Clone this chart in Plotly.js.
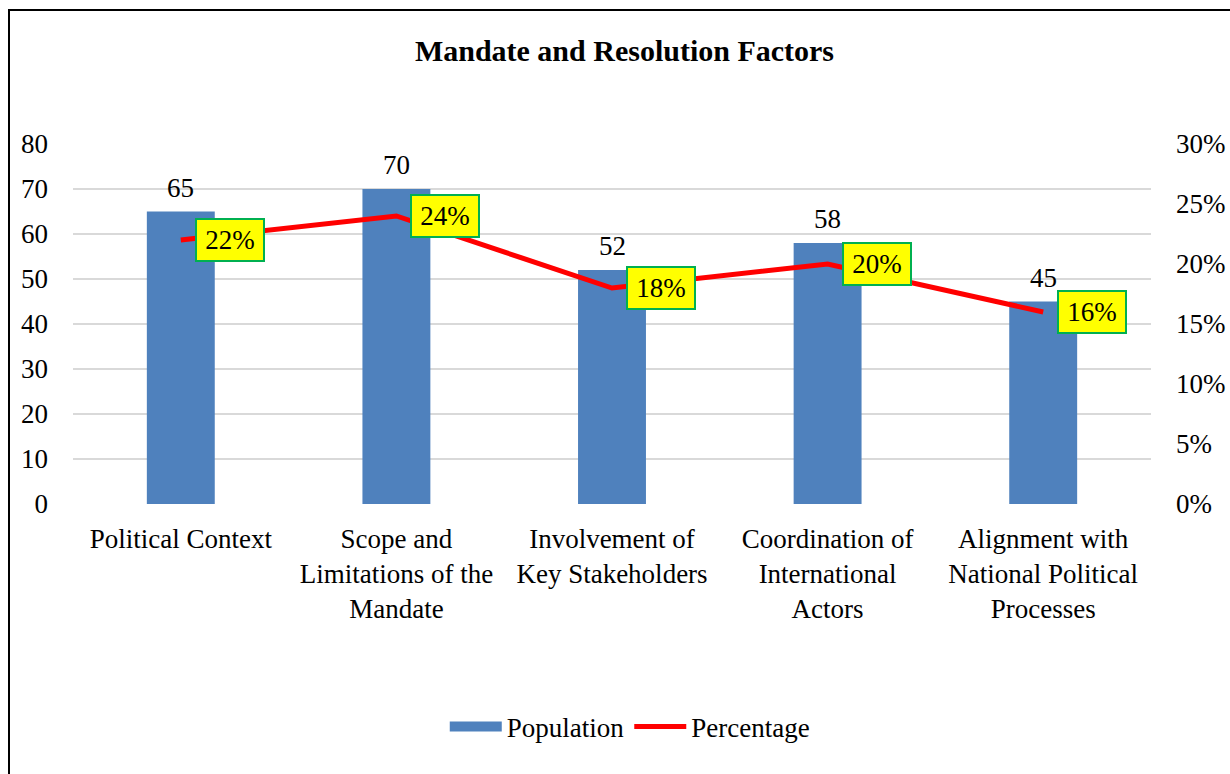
<!DOCTYPE html>
<html>
<head>
<meta charset="utf-8">
<script src="https://cdn.plot.ly/plotly-3.0.1.min.js"></script>
<style>
html,body{margin:0;padding:0;background:#fff;overflow:hidden;}
#chart{width:1230px;height:774px;position:absolute;left:0;top:0;}
#frame{position:absolute;left:8px;top:9px;width:1260px;height:800px;border:2.5px solid #000;pointer-events:none;box-sizing:border-box;}
</style>
</head>
<body>
<div id="chart"></div>
<div id="frame"></div>
<script>
const categories = [
  "Political Context",
  "Scope and<br>Limitations of the<br>Mandate",
  "Involvement of<br>Key Stakeholders",
  "Coordination of<br>International<br>Actors",
  "Alignment with<br>National Political<br>Processes"
];
const population = [65, 70, 52, 58, 45];
const percentage = [0.22, 0.24, 0.18, 0.20, 0.16];
const popLabels = ["65", "70", "52", "58", "45"];
const pctLabels = ["22%", "24%", "18%", "20%", "16%"];

const FONT = "Liberation Serif, Times New Roman, serif";
const FS = 27;

const traces = [
  {
    type: "bar",
    name: "Population",
    x: categories,
    y: population,
    marker: {color: "#4F81BD"},
    yaxis: "y",
    showlegend: false,
    hoverinfo: "skip"
  },
  {
    type: "scatter",
    mode: "lines",
    name: "Population",
    x: [null],
    y: [null],
    yaxis: "y",
    line: {color: "#4F81BD", width: 14},
    hoverinfo: "skip"
  },
  {
    type: "scatter",
    mode: "lines",
    name: "Percentage",
    x: categories,
    y: percentage,
    yaxis: "y2",
    line: {color: "#FF0000", width: 5},
    hoverinfo: "skip"
  }
];

const annotations = [];
categories.forEach((c, i) => {
  annotations.push({
    x: c, y: population[i], xref: "x", yref: "y",
    text: popLabels[i], showarrow: false,
    yanchor: "bottom", yshift: 7,
    font: {family: FONT, size: FS, color: "#000"}
  });
  annotations.push({
    x: c, y: percentage[i], xref: "x", yref: "y2",
    text: pctLabels[i], showarrow: false,
    xanchor: "left", yanchor: "middle", xshift: 14,
    bgcolor: "#FFFF00", bordercolor: "#00B050", borderwidth: 2,
    borderpad: 4, width: 58, height: 32,
    font: {family: FONT, size: FS, color: "#000"}
  });
});

const layout = {
  width: 1230, height: 774,
  margin: {l: 73, r: 79, t: 144, b: 270},
  paper_bgcolor: "#fff",
  plot_bgcolor: "#fff",
  font: {family: FONT, size: FS, color: "#000"},
  title: {
    text: "<b>Mandate and Resolution Factors</b>",
    font: {family: FONT, size: 30, color: "#000"},
    xref: "container", x: 0.5077, xanchor: "center",
    yref: "container", y: 1 - 50/774, yanchor: "middle"
  },
  bargap: 0.685,
  showlegend: true,
  legend: {
    orientation: "h",
    xref: "container", x: 0.512, xanchor: "center",
    yref: "container", y: 1 - 727/774, yanchor: "middle",
    font: {family: FONT, size: FS, color: "#000"},
    itemwidth: 52,
    traceorder: "normal"
  },
  xaxis: {
    type: "category",
    showgrid: false, zeroline: false, showline: false,
    ticks: "", ticklabelstandoff: 16,
    tickfont: {family: FONT, size: FS, color: "#000"},
    tickangle: 0
  },
  yaxis: {
    range: [0, 80], dtick: 10,
    showgrid: true, gridcolor: "#D9D9D9", gridwidth: 1.5,
    zeroline: false, showline: false, ticks: "",
    ticklabelstandoff: 24,
    tickfont: {family: FONT, size: FS, color: "#000"}
  },
  yaxis2: {
    range: [0, 0.3], dtick: 0.05, tickformat: ".0%",
    overlaying: "y", side: "right",
    showgrid: false, zeroline: false, showline: false, ticks: "",
    ticklabelstandoff: 24,
    tickfont: {family: FONT, size: FS, color: "#000"}
  },
  annotations: annotations
};

Plotly.newPlot("chart", traces, layout, {displayModeBar: false, staticPlot: true});
</script>
</body>
</html>
